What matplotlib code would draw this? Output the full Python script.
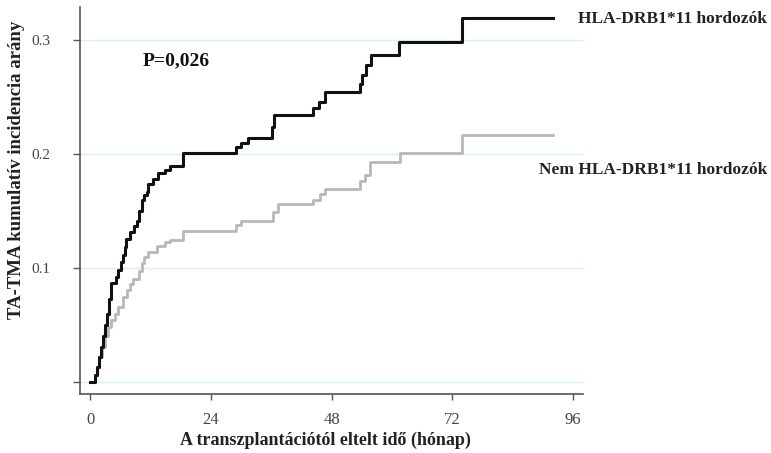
import matplotlib
matplotlib.use("Agg")
import matplotlib.pyplot as plt

# Data: step curves (time in months, cumulative incidence)
black_t = [0, 1.0, 1.4, 1.8, 2.2, 2.6, 3.0, 3.4, 3.8, 4.2, 5.2, 5.6, 6.1, 6.5, 6.9, 7.2,
           7.95, 8.75, 9.3, 9.8, 10.3, 10.8, 11.3, 11.6, 12.6, 13.6, 14.9, 15.9, 18.5,
           29.0, 30.0, 31.4, 36.1, 36.6, 44.3, 45.5, 46.7, 53.7, 54.1, 54.8, 55.8, 61.4,
           73.9, 92.0]
black_v = [0, 0.006, 0.013, 0.022, 0.031, 0.040, 0.050, 0.060, 0.073, 0.087, 0.092, 0.098,
           0.105, 0.111, 0.118, 0.125, 0.132, 0.137, 0.141, 0.150, 0.160, 0.164, 0.167,
           0.174, 0.178, 0.183, 0.186, 0.1895, 0.2005, 0.206, 0.210, 0.214, 0.224, 0.234,
           0.240, 0.246, 0.254, 0.261, 0.269, 0.278, 0.287, 0.298, 0.319, 0.319]

gray_t = [0, 1.0, 1.4, 1.8, 2.3, 3.0, 3.65, 4.1, 5.0, 5.6, 6.6, 7.3, 8.0, 8.6, 9.8, 10.3,
          10.7, 11.6, 13.3, 14.9, 15.9, 18.5, 29.0, 30.0, 36.3, 37.4, 44.4, 45.7, 46.7,
          53.7, 54.7, 55.7, 61.6, 74.0, 92.0]
gray_v = [0, 0.006, 0.013, 0.022, 0.031, 0.040, 0.0485, 0.054, 0.060, 0.066, 0.075, 0.081,
          0.086, 0.090, 0.097, 0.104, 0.110, 0.114, 0.119, 0.123, 0.1246, 0.1325, 0.138,
          0.141, 0.149, 0.156, 0.160, 0.165, 0.169, 0.176, 0.182, 0.193, 0.2005, 0.2167,
          0.2167]

x_ticks = [0, 24, 48, 72, 96]
y_ticks = [0.0, 0.1, 0.2, 0.3]
y_ticklabels = ["", "0.1", "0.2", "0.3"]

label_black = "HLA-DRB1*11 hordozók"
label_gray = "Nem HLA-DRB1*11 hordozók"
p_text = "P=0,026"
xlabel = "A transzplantációtól eltelt idő (hónap)"
ylabel = "TA-TMA kumulatív incidencia arány"

plt.rcParams['font.family'] = ['Liberation Serif', 'DejaVu Serif']

W, H = 771, 453
fig = plt.figure(figsize=(W / 100, H / 100), dpi=100)
ax = fig.add_axes([80 / W, 1 - 394 / H, (583 - 80) / W, (394 - 7) / H])

for y in y_ticks:
    ax.axhline(y, color='#dceeee', lw=1.0, zorder=0)

ax.plot(gray_t, gray_v, drawstyle='steps-post', color='#b8b8b8', lw=2.0, zorder=2)
ax.plot(black_t, black_v, drawstyle='steps-post', color='#111111', lw=2.2, zorder=3)

ax.set_xlim(-2.0, 98.0)
ax.set_ylim(-0.0105, 0.3289)
ax.set_xticks(x_ticks)
ax.set_xticklabels([str(v) for v in x_ticks])
ax.set_yticks(y_ticks)
ax.set_yticklabels(y_ticklabels)

for s in ['top', 'right']:
    ax.spines[s].set_visible(False)
for s in ['left', 'bottom']:
    ax.spines[s].set_color('#555555')
    ax.spines[s].set_linewidth(1.2)

ax.tick_params(axis='y', direction='out', length=5, width=1, color='#555555',
               pad=16, labelsize=11, labelcolor='#444444')
ax.tick_params(axis='x', direction='out', length=4, width=1, color='#555555',
               pad=9, labelsize=12, labelcolor='#444444')

ax.text(10.5, 0.2816, p_text, fontsize=14, fontweight='bold', color='#111111',
        ha='left', va='center')

fig.text(767 / W, 1 - 19 / H, label_black, fontsize=12.5, fontweight='bold',
         color='#222222', ha='right', va='center')
fig.text(767 / W, 1 - 170 / H, label_gray, fontsize=12.5, fontweight='bold',
         color='#222222', ha='right', va='center')

fig.text(325 / W, 1 - 440 / H, xlabel, fontsize=13, fontweight='bold',
         color='#222222', ha='center', va='center')
fig.text(17 / W, 1 - 170 / H, ylabel, fontsize=13.5, fontweight='bold',
         color='#222222', ha='center', va='center', rotation=90)

fig.savefig('out.png', dpi=100)
